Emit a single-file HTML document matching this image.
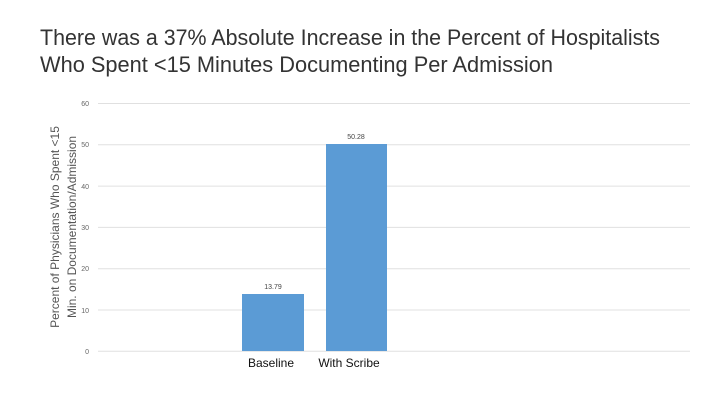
<!DOCTYPE html>
<html><head><style>
body{margin:0;background:#fff;width:720px;height:405px;overflow:hidden;font-family:"Liberation Sans",sans-serif}
</style></head><body>
<svg width="720" height="405" xmlns="http://www.w3.org/2000/svg" font-family="Liberation Sans, sans-serif">
<text x="40" y="45" font-size="22" fill="#333" textLength="620" lengthAdjust="spacingAndGlyphs">There was a 37% Absolute Increase in the Percent of Hospitalists</text>
<text x="40" y="72" font-size="22" fill="#333" textLength="513" lengthAdjust="spacingAndGlyphs">Who Spent &lt;15 Minutes Documenting Per Admission</text>
<g stroke="#e0e0e0" stroke-width="1">
<line x1="98" x2="690" y1="103.5" y2="103.5"/>
<line x1="98" x2="690" y1="144.8" y2="144.8"/>
<line x1="98" x2="690" y1="186.1" y2="186.1"/>
<line x1="98" x2="690" y1="227.4" y2="227.4"/>
<line x1="98" x2="690" y1="268.7" y2="268.7"/>
<line x1="98" x2="690" y1="310" y2="310"/>
<line x1="98" x2="690" y1="351.3" y2="351.3"/>
</g>
<g font-size="7" fill="#666" text-anchor="end">
<text x="89" y="106">60</text><text x="89" y="147">50</text><text x="89" y="189">40</text>
<text x="89" y="230">30</text><text x="89" y="271">20</text><text x="89" y="313">10</text><text x="89" y="354">0</text>
</g>
<rect x="242" y="294" width="62" height="57" fill="#5b9bd5"/>
<rect x="326" y="144" width="61" height="207" fill="#5b9bd5"/>
<g font-size="7" fill="#444" text-anchor="middle">
<text x="273" y="289">13.79</text><text x="356" y="139">50.28</text>
</g>
<g font-size="12" fill="#111" text-anchor="middle">
<text x="271" y="367">Baseline</text><text x="349" y="367">With Scribe</text>
</g>
<g font-size="12" fill="#555" text-anchor="middle">
<text transform="translate(59,227) rotate(-90)">Percent of Physicians Who Spent &lt;15</text>
<text transform="translate(76,227) rotate(-90)">Min. on Documentation/Admission</text>
</g>
</svg>
</body></html>
